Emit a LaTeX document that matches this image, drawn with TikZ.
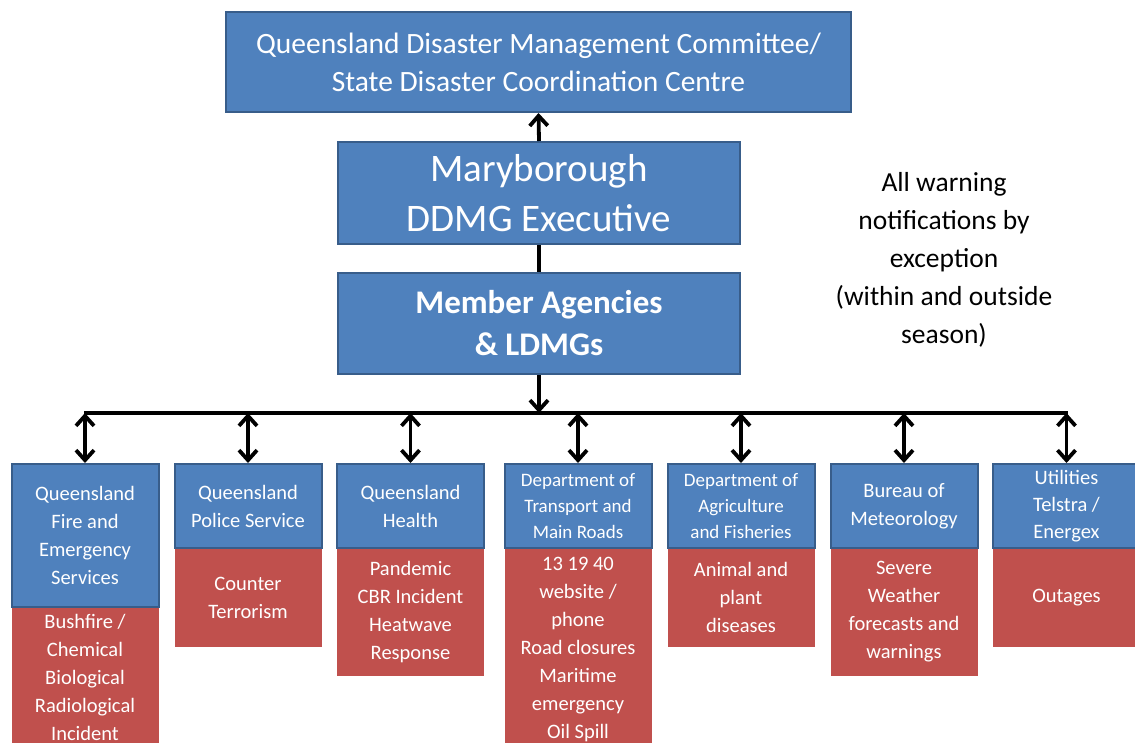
\documentclass[tikz,border=0pt]{standalone}
\usepackage{fontspec}
\setmainfont{Carlito}
\usetikzlibrary{arrows.meta}
\definecolor{qblue}{HTML}{4F81BD}
\definecolor{qbord}{HTML}{385D8A}
\definecolor{qred}{HTML}{C0504D}
\begin{document}
\begin{tikzpicture}[x=1pt,y=-1pt,
  bluebox/.style={draw=qbord, line width=2pt, fill=qblue, text=white, inner sep=0pt, align=center},
  redbox/.style={fill=qred, text=white, inner sep=0pt, align=center},
  conn/.style={line width=3.8pt, black},
  tipend/.style={-{Straight Barb[length=10pt,width=18pt,line width=3.8pt]}},
  tipboth/.style={{Straight Barb[length=10pt,width=18pt,line width=3.8pt]}-{Straight Barb[length=10pt,width=18pt,line width=3.8pt]}},
  small/.style={font=\fontsize{20.5}{28}\selectfont},
  smaller/.style={font=\fontsize{19}{26}\selectfont},
  agency/.style={bluebox, minimum width=147pt, minimum height=84pt},
  detail/.style={redbox, small, minimum width=147pt}
]
\useasboundingbox (0,0) rectangle (1135,742);
\clip (0,0) rectangle (1135,742);

% top level boxes
\node[bluebox, minimum width=625pt, minimum height=100pt, font=\fontsize{29.5}{38}\selectfont] (qdmc) at (538.5,62)
  {Queensland Disaster Management Committee/\\State Disaster Coordination Centre};
\node[bluebox, minimum width=402pt, minimum height=102pt, font=\fontsize{39}{50}\selectfont] (mary) at (539,193)
  {Maryborough\\DDMG Executive};
\node[bluebox, minimum width=402pt, minimum height=101pt, font=\bfseries\fontsize{33}{42}\selectfont] (member) at (539,323.5)
  {Member Agencies\\\& LDMGs};

\node[font=\fontsize{27.5}{38}\selectfont, align=center] (note) at (944,260)
  {All warning\\notifications by\\exception\\(within and outside\\season)};

% red detail boxes
\node[detail, minimum height=140pt] (r1) at (85,677) {Bushfire /\\Chemical\\Biological\\Radiological\\Incident};
\node[detail, minimum height=99pt] (r2) at (248,597.5) {Counter\\Terrorism};
\node[detail, minimum height=128pt] (r3) at (410.5,612) {Pandemic\\CBR Incident\\Heatwave\\Response};
\node[detail, minimum height=200pt] (r4) at (578,649) {13 19 40\\website /\\phone\\Road closures\\Maritime\\emergency\\Oil Spill};
\node[detail, minimum height=99pt] (r5) at (741,597.5) {Animal and\\plant\\diseases};
\node[detail, minimum height=128pt] (r6) at (904,612) {Severe\\Weather\\forecasts and\\warnings};
\node[detail, minimum height=99pt] (r7) at (1066.5,597.5) {Outages};

% blue agency boxes
\node[agency, small, minimum height=143pt] (b1) at (85,535.5) {Queensland\\Fire and\\Emergency\\Services};
\node[agency, small] (b2) at (248,506) {Queensland\\Police Service};
\node[agency, small] (b3) at (410.5,506) {Queensland\\Health};
\node[agency, smaller] (b4) at (578,506) {Department of\\Transport and\\Main Roads};
\node[agency, smaller] (b5) at (741,506) {Department of\\Agriculture\\and Fisheries};
\node[agency, small] (b6) at (904,506) {Bureau of\\Meteorology};
\node[agency, font=\fontsize{20.5}{27}\selectfont] (b7) at (1066.5,506) {Utilities\\Telstra /\\Energex};

% connectors
\coordinate (bus) at (539,413);
\coordinate (busL) at (84,413);
\coordinate (busR) at (1068,413);
\draw[conn, tipend] (mary.north) -- (qdmc.south);
\draw[conn] (mary.south) -- (member.north);
\draw[conn, tipend] (member.south) -- (bus);
\draw[conn, line width=3.2pt] (busL) -- (busR);
\foreach \b in {b1,b2,b3,b4,b5,b6,b7}{
  \draw[conn, tipboth] (\b.north |- bus) -- (\b.north);
}
\end{tikzpicture}
\end{document}
